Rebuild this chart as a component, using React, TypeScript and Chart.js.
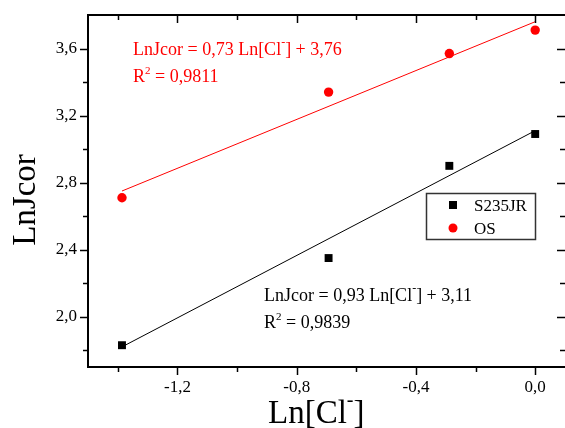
import React, { useEffect, useRef } from 'react';
import { Chart, registerables } from 'chart.js';

Chart.register(...registerables);

const lnCl = [-1.386, -0.693, -0.288, 0];
const s235jr = [1.83, 2.35, 2.9, 3.09];
const os = [2.71, 3.34, 3.57, 3.71];
const fitX = [-1.386, 0];
const s235jrFit = [1.82, 3.11];
const osFit = [2.75, 3.76];
const xMajorTicks = [-1.2, -0.8, -0.4, 0.0];
const xMinorTicks = [-1.4, -1.0, -0.6, -0.2];
const yMajorTicks = [2.0, 2.4, 2.8, 3.2, 3.6];
const yMinorTicks = [1.8, 2.2, 2.6, 3.0, 3.4];
const seriesNames = ['S235JR', 'OS'];
const xTitle = ['Ln[Cl', '-', ']'];
const yTitle = 'LnJcor';
const osEq = ['LnJcor = 0,73 Ln[Cl', '-', '] + 3,76'];
const osR2 = ['R', '2', ' = 0,9811'];
const sEq = ['LnJcor = 0,93 Ln[Cl', '-', '] + 3,11'];
const sR2 = ['R', '2', ' = 0,9839'];

const FONT = "'Liberation Serif', 'Times New Roman', Times, serif";
const RED = '#ff0000';

const fmt = (v: number) => (Math.abs(v) < 1e-9 ? 0 : v).toFixed(1).replace('.', ',');

function drawRich(ctx: CanvasRenderingContext2D, parts: string[], x: number, y: number, size: number, color: string, supSize: number, supRise: number) {
  ctx.fillStyle = color;
  ctx.textAlign = 'left';
  ctx.textBaseline = 'alphabetic';
  let cx = x;
  parts.forEach((t, i) => {
    const sup = i % 2 === 1;
    ctx.font = `${sup ? supSize : size}px ${FONT}`;
    ctx.fillText(t, cx, sup ? y - supRise : y);
    cx += ctx.measureText(t).width;
  });
}

const decorPlugin = {
  id: 'decor',
  afterDraw(chart: any) {
    const { ctx, chartArea: a, scales } = chart;
    const x = scales.x;
    const y = scales.y;
    ctx.save();
    ctx.strokeStyle = '#000';
    const line = (x1: number, y1: number, x2: number, y2: number, w: number) => {
      ctx.lineWidth = w;
      ctx.beginPath();
      ctx.moveTo(x1, y1);
      ctx.lineTo(x2, y2);
      ctx.stroke();
    };
    // top frame
    line(a.left - 1, a.top, a.right, a.top, 2);
    // x ticks
    const xt = (v: number, len: number) => {
      const px = Math.round(x.getPixelForValue(v)) + 0.5;
      line(px, a.bottom, px, a.bottom + len, 1.5);
      line(px, a.top, px, a.top + len, 1.5);
    };
    xMajorTicks.forEach((v) => xt(v, 8));
    xMinorTicks.forEach((v) => xt(v, 5));
    const yt = (v: number, len: number) => {
      const py = Math.round(y.getPixelForValue(v)) + 0.5;
      line(a.left - len, py, a.left, py, 1.5);
      line(a.right - len, py, a.right, py, 1.5);
    };
    yMajorTicks.forEach((v) => yt(v, 8));
    yMinorTicks.forEach((v) => yt(v, 5));

    // axis titles
    drawRich(ctx, xTitle, 268, 423, 33, '#000', 20, 17);
    ctx.save();
    ctx.translate(35, 200);
    ctx.rotate(-Math.PI / 2);
    ctx.font = `33px ${FONT}`;
    ctx.fillStyle = '#000';
    ctx.textAlign = 'center';
    ctx.textBaseline = 'alphabetic';
    ctx.fillText(yTitle, 0, 0);
    ctx.restore();

    // annotations
    drawRich(ctx, osEq, 133, 55, 18, RED, 12, 9);
    drawRich(ctx, osR2, 133, 82, 18, RED, 11, 8);
    drawRich(ctx, sEq, 264, 301, 18, '#000', 12, 9);
    drawRich(ctx, sR2, 264, 328, 18, '#000', 11, 8);

    // legend
    ctx.lineWidth = 1.5;
    ctx.strokeStyle = '#333';
    ctx.strokeRect(426.5, 193.5, 109, 46);
    ctx.fillStyle = '#000';
    ctx.fillRect(449, 201, 8, 8);
    ctx.fillStyle = RED;
    ctx.beginPath();
    ctx.arc(453, 228, 4.5, 0, Math.PI * 2);
    ctx.fill();
    ctx.fillStyle = '#000';
    ctx.font = `17px ${FONT}`;
    ctx.textAlign = 'left';
    ctx.textBaseline = 'alphabetic';
    ctx.fillText(seriesNames[0], 474, 211);
    ctx.fillText(seriesNames[1], 474, 234);
    ctx.restore();
  },
};

export default function App() {
  const ref = useRef<HTMLCanvasElement>(null);
  useEffect(() => {
    if (!ref.current) return;
    const chart = new Chart(ref.current, {
      type: 'scatter',
      data: {
        datasets: [
          {
            label: seriesNames[0],
            data: lnCl.map((v, i) => ({ x: v, y: s235jr[i] })),
            pointStyle: 'rect',
            pointRadius: 5.6,
            backgroundColor: '#000',
            borderColor: '#000',
            borderWidth: 0,
            showLine: false,
          },
          {
            label: seriesNames[1],
            data: lnCl.map((v, i) => ({ x: v, y: os[i] })),
            pointStyle: 'circle',
            pointRadius: 4.7,
            backgroundColor: RED,
            borderColor: RED,
            borderWidth: 0,
            showLine: false,
          },
          {
            label: 'S235JR fit',
            data: fitX.map((v, i) => ({ x: v, y: s235jrFit[i] })),
            showLine: true,
            pointRadius: 0,
            borderColor: '#000',
            borderWidth: 1,
          },
          {
            label: 'OS fit',
            data: fitX.map((v, i) => ({ x: v, y: osFit[i] })),
            showLine: true,
            pointRadius: 0,
            borderColor: RED,
            borderWidth: 1,
          },
        ],
      },
      options: {
        responsive: false,
        animation: false,
        events: [],
        layout: { autoPadding: false, padding: { top: 15, right: 0, left: 0, bottom: 0 } },
        plugins: { legend: { display: false }, tooltip: { enabled: false } },
        scales: {
          x: {
            type: 'linear',
            min: -1.5,
            max: 0.1,
            afterBuildTicks: (s: any) => {
              s.ticks = xMajorTicks.map((v) => ({ value: v }));
            },
            afterFit: (s: any) => {
              s.height = 61;
              s.paddingLeft = 0;
              s.paddingRight = 0;
            },
            grid: { display: false, drawTicks: true, tickLength: 8 },
            border: { display: true, color: '#000', width: 2 },
            ticks: {
              padding: 2,
              color: '#000',
              font: { family: FONT, size: 17 },
              maxRotation: 0,
              autoSkip: false,
              callback: (v: any) => fmt(Number(v)),
            },
          },
          y: {
            type: 'linear',
            min: 1.7,
            max: 3.8,
            afterBuildTicks: (s: any) => {
              s.ticks = yMajorTicks.map((v) => ({ value: v }));
            },
            afterFit: (s: any) => {
              s.width = 88;
              s.paddingTop = 0;
              s.paddingBottom = 0;
            },
            grid: { display: false, drawTicks: true, tickLength: 8 },
            border: { display: true, color: '#000', width: 2 },
            ticks: {
              padding: 3,
              color: '#000',
              font: { family: FONT, size: 17 },
              autoSkip: false,
              callback: (v: any) => fmt(Number(v)),
            },
          },
        },
      },
      plugins: [decorPlugin],
    } as any);
    return () => chart.destroy();
  }, []);
  return (
    <div style={{ position: 'fixed', left: 0, top: 0, width: 565, height: 428, background: '#fff' }}>
      <canvas ref={ref} width={565} height={428} style={{ display: 'block' }} />
    </div>
  );
}
